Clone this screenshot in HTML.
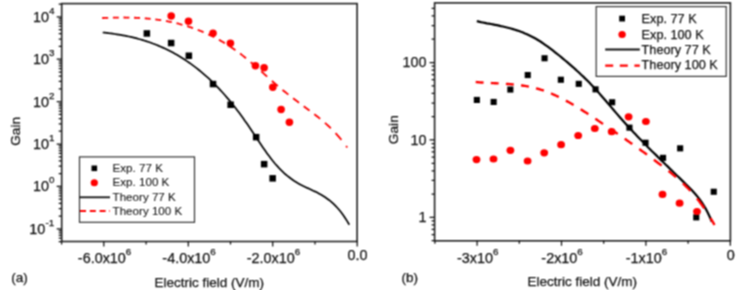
<!DOCTYPE html>
<html><head><meta charset="utf-8"><style>
html,body{margin:0;padding:0;background:#fff;}
svg{display:block;}
text{font-family:"Liberation Sans", sans-serif;stroke:#111;stroke-width:0.25px;}
</style></head><body>
<svg width="750" height="290" viewBox="0 0 750 290">
<defs><filter id="bl" x="0" y="0" width="750" height="290" filterUnits="userSpaceOnUse" color-interpolation-filters="sRGB"><feConvolveMatrix order="3" kernelMatrix="1 2 1 2 4 2 1 2 1" divisor="16" edgeMode="duplicate"/></filter></defs>
<rect width="750" height="290" fill="#fff"/>
<g filter="url(#bl)">
<rect width="750" height="290" fill="#fff"/>
<rect x="61.7" y="3.6" width="295.4" height="237.9" fill="none" stroke="#222" stroke-width="1.6"/>
<path d="M61.6,241.5V244.5 M103.8,241.5V246.5 M146.1,241.5V244.5 M188.3,241.5V246.5 M230.5,241.5V244.5 M272.7,241.5V246.5 M315.0,241.5V244.5 M357.2,241.5V246.5 M61.7,241.6H58.7 M61.7,238.2H58.7 M61.7,235.4H58.7 M61.7,232.9H58.7 M61.7,230.7H58.7 M61.7,228.8H56.7 M61.7,216.0H58.7 M61.7,208.6H58.7 M61.7,203.3H58.7 M61.7,199.2H58.7 M61.7,195.8H58.7 M61.7,193.0H58.7 M61.7,190.5H58.7 M61.7,188.3H58.7 M61.7,186.4H56.7 M61.7,173.6H58.7 M61.7,166.2H58.7 M61.7,160.9H58.7 M61.7,156.8H58.7 M61.7,153.4H58.7 M61.7,150.6H58.7 M61.7,148.1H58.7 M61.7,145.9H58.7 M61.7,144.0H56.7 M61.7,131.2H58.7 M61.7,123.8H58.7 M61.7,118.5H58.7 M61.7,114.4H58.7 M61.7,111.0H58.7 M61.7,108.2H58.7 M61.7,105.7H58.7 M61.7,103.5H58.7 M61.7,101.6H56.7 M61.7,88.8H58.7 M61.7,81.4H58.7 M61.7,76.1H58.7 M61.7,72.0H58.7 M61.7,68.6H58.7 M61.7,65.8H58.7 M61.7,63.3H58.7 M61.7,61.1H58.7 M61.7,59.2H56.7 M61.7,46.4H58.7 M61.7,39.0H58.7 M61.7,33.7H58.7 M61.7,29.6H58.7 M61.7,26.2H58.7 M61.7,23.4H58.7 M61.7,20.9H58.7 M61.7,18.7H58.7 M61.7,16.8H56.7 M61.7,4.0H58.7" stroke="#111" stroke-width="1.25" fill="none"/>
<text x="45.3" y="233.8" font-size="14.4" text-anchor="end" fill="#111">10</text>
<text x="45.6" y="225.8" font-size="9.8" fill="#111">-1</text>
<text x="48.9" y="191.4" font-size="14.4" text-anchor="end" fill="#111">10</text>
<text x="49.0" y="183.4" font-size="9.8" fill="#111">0</text>
<text x="48.9" y="149.0" font-size="14.4" text-anchor="end" fill="#111">10</text>
<text x="49.0" y="141.0" font-size="9.8" fill="#111">1</text>
<text x="48.9" y="106.6" font-size="14.4" text-anchor="end" fill="#111">10</text>
<text x="49.0" y="98.6" font-size="9.8" fill="#111">2</text>
<text x="48.9" y="64.2" font-size="14.4" text-anchor="end" fill="#111">10</text>
<text x="49.0" y="56.2" font-size="9.8" fill="#111">3</text>
<text x="48.9" y="21.8" font-size="14.4" text-anchor="end" fill="#111">10</text>
<text x="49.0" y="13.8" font-size="9.8" fill="#111">4</text>
<text x="104.6" y="262.6" font-size="14.4" text-anchor="middle" fill="#111">-6.0x10<tspan dy="-7.9" font-size="9.8">6</tspan></text>
<text x="189.1" y="262.6" font-size="14.4" text-anchor="middle" fill="#111">-4.0x10<tspan dy="-7.9" font-size="9.8">6</tspan></text>
<text x="273.5" y="262.6" font-size="14.4" text-anchor="middle" fill="#111">-2.0x10<tspan dy="-7.9" font-size="9.8">6</tspan></text>
<text x="357.4" y="260.2" font-size="14.4" text-anchor="middle" fill="#111">0.0</text>
<text x="154.6" y="286.8" font-size="13.5" fill="#111">Electric field (V/m)</text>
<text x="11.3" y="281.6" font-size="13.5" fill="#111">(a)</text>
<text transform="translate(20.2,131.4) rotate(-90)" font-size="13.7" text-anchor="middle" fill="#111">Gain</text>
<path d="M102.7,32.5 L104.7,32.7 L106.7,32.9 L108.7,33.2 L110.7,33.4 L112.7,33.7 L114.7,34.0 L116.7,34.3 L118.7,34.6 L120.7,34.9 L122.7,35.3 L124.8,35.7 L126.8,36.1 L128.8,36.5 L130.8,36.9 L132.8,37.4 L134.8,37.9 L136.8,38.4 L138.8,39.0 L140.8,39.5 L142.8,40.1 L144.8,40.7 L146.8,41.4 L148.8,42.0 L150.8,42.7 L152.8,43.5 L154.8,44.2 L156.8,45.0 L158.8,45.9 L160.8,46.7 L162.8,47.6 L164.9,48.5 L166.9,49.5 L168.9,50.5 L170.9,51.5 L172.9,52.6 L174.9,53.7 L176.9,54.8 L178.9,56.0 L180.9,57.2 L182.9,58.5 L184.9,59.8 L186.9,61.1 L188.9,62.5 L190.9,63.9 L192.9,65.4 L194.9,66.9 L196.9,68.4 L198.9,70.0 L200.9,71.7 L202.9,73.4 L204.9,75.1 L207.0,76.9 L209.0,78.7 L211.0,80.6 L213.0,82.6 L215.0,84.6 L217.0,86.6 L219.0,88.7 L221.0,90.8 L223.0,93.0 L225.0,95.3 L227.0,97.6 L229.0,99.9 L231.0,102.3 L233.0,104.8 L235.0,107.3 L237.0,109.9 L239.0,112.6 L241.0,115.3 L243.0,118.0 L245.0,120.9 L247.1,123.8 L249.1,126.7 L251.1,129.7 L253.1,132.7 L255.1,135.7 L257.1,138.8 L259.1,141.8 L261.1,144.8 L263.1,147.7 L265.1,150.6 L267.1,153.4 L269.1,156.1 L271.1,158.7 L273.1,161.3 L275.1,163.7 L277.1,165.9 L279.1,168.1 L281.1,170.2 L283.1,172.1 L285.1,174.0 L287.1,175.7 L289.2,177.3 L291.2,178.8 L293.2,180.2 L295.2,181.6 L297.2,182.8 L299.2,183.9 L301.2,185.0 L303.2,186.0 L305.2,186.9 L307.2,187.9 L309.2,188.8 L311.2,189.7 L313.2,190.7 L315.2,191.6 L317.2,192.6 L319.2,193.7 L321.2,194.8 L323.2,196.0 L325.2,197.3 L327.2,198.7 L329.3,200.2 L331.3,201.8 L333.3,203.6 L335.3,205.6 L337.3,207.7 L339.3,210.0 L341.3,212.5 L343.3,215.2 L345.3,218.2 L347.3,221.4 L349.3,224.8" stroke="#000" stroke-width="1.7" fill="none"/>
<path d="M102.20,18.02 L103.20,17.98 L104.20,17.93 L105.20,17.89 L106.20,17.85 L107.20,17.82 L108.20,17.78 M112.90,17.64 L113.90,17.62 L114.90,17.60 L115.90,17.58 L116.90,17.56 L117.90,17.55 L118.80,17.54 M123.50,17.52 L124.50,17.52 L125.50,17.53 L126.50,17.54 L127.50,17.56 L128.50,17.57 L129.40,17.59 M134.10,17.73 L135.10,17.76 L136.10,17.81 L137.10,17.85 L138.10,17.90 L139.10,17.96 L140.00,18.01 M144.70,18.33 L145.70,18.41 L146.70,18.49 L147.70,18.58 L148.70,18.67 L149.70,18.77 L150.60,18.86 M155.30,19.40 L156.30,19.53 L157.30,19.66 L158.30,19.80 L159.30,19.94 L160.30,20.09 L161.20,20.23 M165.90,21.02 L166.90,21.20 L167.90,21.39 L168.90,21.58 L169.90,21.78 L170.90,21.99 L171.80,22.18 M176.50,23.25 L177.50,23.49 L178.50,23.74 L179.50,24.00 L180.50,24.26 L181.50,24.53 L182.40,24.78 M187.10,26.17 L188.10,26.48 L189.10,26.80 L190.10,27.13 L191.10,27.46 L192.10,27.80 L193.00,28.11 M197.70,29.84 L198.70,30.23 L199.70,30.63 L200.70,31.03 L201.70,31.44 L202.70,31.86 L203.60,32.24 M208.30,34.35 L209.30,34.82 L210.30,35.30 L211.30,35.78 L212.30,36.28 L213.30,36.78 L214.20,37.24 M218.90,39.76 L219.90,40.32 L220.90,40.89 L221.90,41.46 L222.90,42.05 L223.90,42.64 L224.80,43.19 M229.50,46.14 L230.50,46.80 L231.50,47.46 L232.50,48.14 L233.50,48.82 L234.50,49.52 L235.40,50.15 M240.10,53.58 L241.10,54.33 L242.10,55.10 L243.10,55.88 L244.10,56.67 L245.10,57.47 L246.00,58.19 M250.70,62.10 L251.70,62.95 L252.70,63.81 L253.70,64.68 L254.70,65.55 L255.70,66.42 L256.60,67.21 M261.30,71.39 L262.30,72.28 L263.30,73.18 L264.30,74.07 L265.30,74.97 L266.30,75.87 L267.20,76.67 M271.90,80.85 L272.90,81.73 L273.90,82.60 L274.90,83.47 L275.90,84.34 L276.90,85.20 L277.80,85.97 M282.50,89.89 L283.50,90.70 L284.50,91.51 L285.50,92.32 L286.50,93.11 L287.50,93.91 L288.40,94.62 M293.10,98.26 L294.10,99.03 L295.10,99.79 L296.10,100.54 L297.10,101.30 L298.10,102.05 L299.00,102.73 M303.70,106.23 L304.70,106.97 L305.70,107.71 L306.70,108.45 L307.70,109.19 L308.70,109.93 L309.60,110.60 M314.30,114.15 L315.30,114.92 L316.30,115.70 L317.30,116.49 L318.30,117.28 L319.30,118.09 L320.20,118.82 M324.90,122.80 L325.90,123.69 L326.90,124.59 L327.90,125.51 L328.90,126.44 L329.90,127.40 L330.80,128.27 M335.50,133.09 L336.50,134.18 L337.50,135.29 L338.50,136.43 L339.50,137.59 L340.50,138.78 L341.40,139.87 M346.10,145.94 L346.30,146.21 L346.50,146.49 L346.70,146.76 L346.90,147.04 L347.10,147.32 L347.20,147.46" stroke="#f00" stroke-width="1.8" fill="none"/>
<rect x="143.6" y="30.2" width="6.5" height="6.5" fill="#000"/>
<rect x="167.9" y="39.8" width="6.5" height="6.5" fill="#000"/>
<rect x="185.6" y="52.5" width="6.5" height="6.5" fill="#000"/>
<rect x="209.8" y="80.8" width="6.5" height="6.5" fill="#000"/>
<rect x="227.4" y="101.5" width="6.5" height="6.5" fill="#000"/>
<rect x="252.9" y="133.9" width="6.5" height="6.5" fill="#000"/>
<rect x="260.9" y="160.9" width="6.5" height="6.5" fill="#000"/>
<rect x="269.4" y="175.1" width="6.5" height="6.5" fill="#000"/>
<ellipse cx="171.2" cy="16" rx="3.8" ry="3.7" fill="#f00"/>
<ellipse cx="188.5" cy="21.2" rx="3.8" ry="3.7" fill="#f00"/>
<ellipse cx="213" cy="33.2" rx="3.8" ry="3.7" fill="#f00"/>
<ellipse cx="230.4" cy="43.2" rx="3.8" ry="3.7" fill="#f00"/>
<ellipse cx="255.4" cy="65.7" rx="3.8" ry="3.7" fill="#f00"/>
<ellipse cx="264.1" cy="67.7" rx="3.8" ry="3.7" fill="#f00"/>
<ellipse cx="272.8" cy="87.3" rx="3.8" ry="3.7" fill="#f00"/>
<ellipse cx="281.1" cy="109.5" rx="3.8" ry="3.7" fill="#f00"/>
<ellipse cx="289.4" cy="122.2" rx="3.8" ry="3.7" fill="#f00"/>
<rect x="79.5" y="156.9" width="115" height="65.4" fill="#fff" stroke="#333" stroke-width="1.2"/>
<rect x="91.5" y="165.5" width="5.6" height="5.6" fill="#000"/>
<ellipse cx="94.3" cy="182.8" rx="3.6" ry="3.5" fill="#f00"/>
<path d="M79.3,197.3H110" stroke="#111" stroke-width="1.8"/>
<path d="M80,211H110" stroke="#f00" stroke-width="1.8" stroke-dasharray="6 3.8"/>
<text x="112.6" y="172.4" font-size="11.6" fill="#111" style="stroke-width:0.08px">Exp. 77 K</text>
<text x="112.6" y="186.4" font-size="11.6" fill="#111" style="stroke-width:0.08px">Exp. 100 K</text>
<text x="112.6" y="200.9" font-size="11.6" fill="#111" style="stroke-width:0.08px">Theory 77 K</text>
<text x="112.6" y="214.9" font-size="11.6" fill="#111" style="stroke-width:0.08px">Theory 100 K</text>
<rect x="434.6" y="2.9" width="295.8" height="237.9" fill="none" stroke="#222" stroke-width="1.6"/>
<path d="M434.9,240.8V243.8 M477.1,240.8V245.8 M519.3,240.8V243.8 M561.5,240.8V245.8 M603.7,240.8V243.8 M645.9,240.8V245.8 M688.1,240.8V243.8 M730.3,240.8V245.8 M434.6,240.7H431.6 M434.6,234.6H431.6 M434.6,229.4H431.6 M434.6,224.9H431.6 M434.6,220.9H431.6 M434.6,217.4H429.6 M434.6,194.1H431.6 M434.6,180.4H431.6 M434.6,170.8H431.6 M434.6,163.3H431.6 M434.6,157.1H431.6 M434.6,151.9H431.6 M434.6,147.5H431.6 M434.6,143.5H431.6 M434.6,139.9H429.6 M434.6,116.6H431.6 M434.6,103.0H431.6 M434.6,93.3H431.6 M434.6,85.8H431.6 M434.6,79.7H431.6 M434.6,74.5H431.6 M434.6,70.0H431.6 M434.6,66.0H431.6 M434.6,62.5H429.6 M434.6,39.2H431.6 M434.6,25.5H431.6 M434.6,15.9H431.6 M434.6,8.4H431.6" stroke="#111" stroke-width="1.25" fill="none"/>
<text x="426.4" y="222.3" font-size="14.4" text-anchor="end" fill="#111">1</text>
<text x="426.4" y="144.8" font-size="14.4" text-anchor="end" fill="#111">10</text>
<text x="426.4" y="67.4" font-size="14.4" text-anchor="end" fill="#111">100</text>
<text x="477.7" y="262.6" font-size="14.4" text-anchor="middle" fill="#111">-3x10<tspan dy="-7.9" font-size="9.8">6</tspan></text>
<text x="562.1" y="262.6" font-size="14.4" text-anchor="middle" fill="#111">-2x10<tspan dy="-7.9" font-size="9.8">6</tspan></text>
<text x="646.5" y="262.6" font-size="14.4" text-anchor="middle" fill="#111">-1x10<tspan dy="-7.9" font-size="9.8">6</tspan></text>
<text x="730.8" y="260.2" font-size="14.4" text-anchor="middle" fill="#111">0</text>
<text x="527.5" y="285.9" font-size="13.5" fill="#111">Electric field (V/m)</text>
<text x="401.6" y="281.6" font-size="13.5" fill="#111">(b)</text>
<text transform="translate(397.6,129.7) rotate(-90)" font-size="13.7" text-anchor="middle" fill="#111">Gain</text>
<path d="M476.8,21.2 L478.8,21.6 L480.8,22.1 L482.8,22.5 L484.8,22.9 L486.8,23.3 L488.9,23.6 L490.9,24.0 L492.9,24.4 L494.9,24.8 L496.9,25.2 L498.9,25.6 L500.9,26.1 L502.9,26.5 L504.9,27.0 L506.9,27.5 L508.9,28.0 L510.9,28.5 L513.0,29.1 L515.0,29.7 L517.0,30.4 L519.0,31.0 L521.0,31.8 L523.0,32.5 L525.0,33.4 L527.0,34.2 L529.0,35.2 L531.0,36.2 L533.0,37.2 L535.0,38.3 L537.1,39.5 L539.1,40.7 L541.1,42.0 L543.1,43.4 L545.1,44.8 L547.1,46.2 L549.1,47.7 L551.1,49.2 L553.1,50.7 L555.1,52.3 L557.1,53.9 L559.2,55.5 L561.2,57.1 L563.2,58.8 L565.2,60.5 L567.2,62.1 L569.2,63.9 L571.2,65.6 L573.2,67.3 L575.2,69.1 L577.2,71.0 L579.2,72.8 L581.2,74.7 L583.3,76.6 L585.3,78.6 L587.3,80.5 L589.3,82.6 L591.3,84.7 L593.3,86.8 L595.3,88.9 L597.3,91.1 L599.3,93.4 L601.3,95.7 L603.3,98.0 L605.3,100.3 L607.4,102.7 L609.4,105.0 L611.4,107.4 L613.4,109.7 L615.4,112.1 L617.4,114.4 L619.4,116.7 L621.4,119.0 L623.4,121.2 L625.4,123.5 L627.4,125.7 L629.4,127.9 L631.5,130.0 L633.5,132.2 L635.5,134.3 L637.5,136.4 L639.5,138.5 L641.5,140.5 L643.5,142.6 L645.5,144.6 L647.5,146.7 L649.5,148.7 L651.5,150.7 L653.6,152.7 L655.6,154.6 L657.6,156.6 L659.6,158.6 L661.6,160.6 L663.6,162.5 L665.6,164.5 L667.6,166.4 L669.6,168.4 L671.6,170.3 L673.6,172.3 L675.6,174.2 L677.7,176.2 L679.7,178.1 L681.7,180.1 L683.7,182.1 L685.7,184.1 L687.7,186.0 L689.7,188.0 L691.7,190.1 L693.7,192.3 L695.7,194.5 L697.7,196.9 L699.7,199.5 L701.8,202.3 L703.8,205.5 L705.8,208.9 L707.8,212.7 L709.8,217.0 L711.8,221.7" stroke="#000" stroke-width="2.2" fill="none"/>
<path d="M475.70,82.00 L477.00,82.12 L478.30,82.23 L479.60,82.33 L480.90,82.43 L482.20,82.52 L483.50,82.60 L483.60,82.61 M490.80,83.02 L492.10,83.09 L493.40,83.15 L494.70,83.22 L496.00,83.29 L497.30,83.35 L498.60,83.42 L498.70,83.43 M505.90,83.86 L507.20,83.95 L508.50,84.04 L509.80,84.15 L511.10,84.25 L512.40,84.37 L513.70,84.49 L513.80,84.50 M521.00,85.35 L522.30,85.53 L523.60,85.73 L524.90,85.94 L526.20,86.16 L527.50,86.39 L528.80,86.64 L528.90,86.66 M536.00,88.29 L537.30,88.64 L538.60,89.01 L539.90,89.40 L541.20,89.80 L542.50,90.23 L543.80,90.67 L543.90,90.71 M551.00,93.44 L552.30,93.99 L553.60,94.56 L554.90,95.14 L556.20,95.74 L557.50,96.36 L558.80,96.98 M565.90,100.64 L567.20,101.35 L568.50,102.07 L569.80,102.80 L571.10,103.54 L572.40,104.29 L573.60,104.99 M580.60,109.23 L581.90,110.05 L583.20,110.87 L584.50,111.69 L585.80,112.52 L587.10,113.36 L588.30,114.14 M595.30,118.75 L596.60,119.62 L597.90,120.49 L599.20,121.37 L600.50,122.24 L601.80,123.12 L603.00,123.93 M610.00,128.67 L611.30,129.55 L612.60,130.44 L613.90,131.33 L615.20,132.22 L616.50,133.11 L617.70,133.93 M624.70,138.77 L625.90,139.60 L627.10,140.44 L628.30,141.28 L629.50,142.12 L630.70,142.96 L631.90,143.81 L632.30,144.09 M639.30,149.07 L640.60,150.00 L641.90,150.94 L643.20,151.88 L644.50,152.83 L645.80,153.77 L647.00,154.65 M653.90,159.76 L655.20,160.73 L656.50,161.71 L657.80,162.69 L659.10,163.68 L660.40,164.67 L661.60,165.59 M668.50,170.95 L669.70,171.90 L670.90,172.87 L672.10,173.84 L673.30,174.82 L674.50,175.82 L675.70,176.83 L676.10,177.17 M682.90,183.27 L684.10,184.41 L685.30,185.58 L686.50,186.78 L687.70,188.00 L688.90,189.25 L690.10,190.53 L690.40,190.86 M697.00,198.53 L698.20,200.04 L699.40,201.59 L700.60,203.18 L701.80,204.81 L703.00,206.49 L704.20,208.21 M710.50,218.01 L711.10,219.02 L711.70,220.03 L712.30,221.07 L712.90,222.11 L713.50,223.17 L714.10,224.24 L714.50,224.97" stroke="#f00" stroke-width="2.4" fill="none"/>
<rect x="473.8" y="96.9" width="6.1" height="6.1" fill="#000"/>
<rect x="490.6" y="98.9" width="6.1" height="6.1" fill="#000"/>
<rect x="507.3" y="86.5" width="6.1" height="6.1" fill="#000"/>
<rect x="524.7" y="72.0" width="6.1" height="6.1" fill="#000"/>
<rect x="541.5" y="55.2" width="6.1" height="6.1" fill="#000"/>
<rect x="557.8" y="76.7" width="6.1" height="6.1" fill="#000"/>
<rect x="575.7" y="80.8" width="6.1" height="6.1" fill="#000"/>
<rect x="592.5" y="86.3" width="6.1" height="6.1" fill="#000"/>
<rect x="609.1" y="99.2" width="6.1" height="6.1" fill="#000"/>
<rect x="626.4" y="124.6" width="6.1" height="6.1" fill="#000"/>
<rect x="642.5" y="139.7" width="6.1" height="6.1" fill="#000"/>
<rect x="660.0" y="154.8" width="6.1" height="6.1" fill="#000"/>
<rect x="677.1" y="145.3" width="6.1" height="6.1" fill="#000"/>
<rect x="693.2" y="214.3" width="6.1" height="6.1" fill="#000"/>
<rect x="710.7" y="188.7" width="6.1" height="6.1" fill="#000"/>
<ellipse cx="476.5" cy="159.6" rx="3.9" ry="3.6" fill="#f00"/>
<ellipse cx="493.5" cy="159.0" rx="3.9" ry="3.6" fill="#f00"/>
<ellipse cx="510.4" cy="150.3" rx="3.9" ry="3.6" fill="#f00"/>
<ellipse cx="527.6" cy="161.0" rx="3.9" ry="3.6" fill="#f00"/>
<ellipse cx="544.2" cy="152.8" rx="3.9" ry="3.6" fill="#f00"/>
<ellipse cx="561.1" cy="144.71925" rx="3.9" ry="3.6" fill="#f00"/>
<ellipse cx="578.2" cy="135.5185" rx="3.9" ry="3.6" fill="#f00"/>
<ellipse cx="594.8" cy="128.50900000000001" rx="3.9" ry="3.6" fill="#f00"/>
<ellipse cx="611.7" cy="131.7" rx="3.9" ry="3.6" fill="#f00"/>
<ellipse cx="628.6" cy="116.8" rx="3.9" ry="3.6" fill="#f00"/>
<ellipse cx="645.9" cy="121.5" rx="3.9" ry="3.6" fill="#f00"/>
<ellipse cx="662.5" cy="194.39999999999998" rx="3.9" ry="3.6" fill="#f00"/>
<ellipse cx="679.6" cy="203.2" rx="3.9" ry="3.6" fill="#f00"/>
<ellipse cx="697" cy="211.5" rx="3.9" ry="3.6" fill="#f00"/>
<rect x="596.2" y="6.6" width="130" height="69.8" fill="#fff" stroke="#333" stroke-width="1.2"/>
<rect x="619.2" y="15.7" width="5.8" height="5.8" fill="#000"/>
<ellipse cx="622.1" cy="34.5" rx="3.7" ry="3.6" fill="#f00"/>
<path d="M605.2,49.6H639.8" stroke="#111" stroke-width="2"/>
<path d="M605.2,65.6H639.8" stroke="#f00" stroke-width="2.3" stroke-dasharray="8 6.6"/>
<text x="641.6" y="23.3" font-size="12.7" fill="#111">Exp. 77 K</text>
<text x="641.6" y="38.6" font-size="12.7" fill="#111">Exp. 100 K</text>
<text x="641.6" y="53.9" font-size="12.7" fill="#111">Theory 77 K</text>
<text x="641.6" y="69.2" font-size="12.7" fill="#111">Theory 100 K</text>
</g>
</svg>
</body></html>
